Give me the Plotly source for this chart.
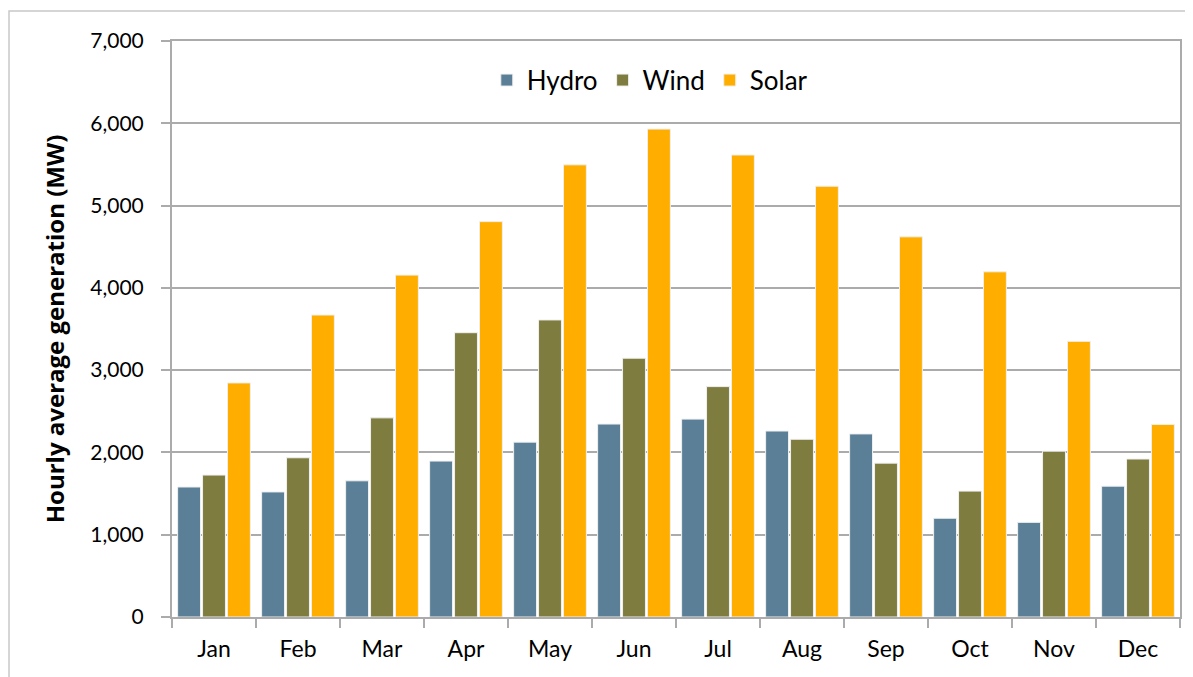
import plotly.graph_objects as go

months = ["Jan", "Feb", "Mar", "Apr", "May", "Jun", "Jul", "Aug", "Sep", "Oct", "Nov", "Dec"]
hydro = [1580, 1520, 1655, 1895, 2125, 2345, 2405, 2260, 2225, 1200, 1150, 1590]
wind = [1725, 1935, 2420, 3455, 3610, 3145, 2800, 2160, 1870, 1530, 2015, 1920]
solar = [2845, 3670, 4155, 4805, 5495, 5930, 5615, 5235, 4620, 4195, 3350, 2340]

series = [("Hydro", hydro, "#5A7F96"), ("Wind", wind, "#7E7C3E"), ("Solar", solar, "#FFAE00")]

fig = go.Figure()
for name, vals, col in series:
    fig.add_trace(go.Bar(x=months, y=vals, name=name,
                         marker=dict(color=col, line=dict(color="#F0F0F0", width=1))))

font = "Lato, 'Open Sans', sans-serif"
fig.update_layout(
    width=1185, height=669,
    margin=dict(l=164, r=13, t=33, b=60, autoexpand=False),
    paper_bgcolor="white", plot_bgcolor="white",
    barmode="group", bargap=0.11, bargroupgap=0.08,
    font=dict(family=font, size=21, color="black"),
    showlegend=True,
    legend=dict(orientation="h", x=0.474, xanchor="center", y=0.932, yanchor="middle",
                font=dict(size=26), itemwidth=30, bgcolor="rgba(0,0,0,0)"),
    xaxis=dict(showgrid=False, showline=True, linecolor="#ABABAB", linewidth=2, mirror=True,
               ticks="outside", tickson="boundaries", ticklen=9, tickcolor="#ABABAB", tickwidth=1.5,
               tickfont=dict(size=23), ticklabelstandoff=10, automargin=False),
    yaxis=dict(range=[0, 7000], dtick=1000, tickformat=",d", showgrid=True, gridcolor="#ABABAB", gridwidth=1.5,
               showline=True, linecolor="#ABABAB", linewidth=2, mirror=True,
               ticks="outside", ticklen=9, tickcolor="#ABABAB", tickwidth=1.5,
               tickfont=dict(size=21), ticklabelstandoff=13, zeroline=False, automargin=False,
               title=dict(text="Hourly average generation (MW)",
                          font=dict(size=24, family="'Open Sans', sans-serif", weight="bold"), standoff=19)),
    shapes=[dict(type="rect", xref="paper", yref="paper", x0=-0.1617, x1=1.2, y0=-0.3, y1=1.052,
                 line=dict(color="#C8C8C8", width=1.5), fillcolor="rgba(0,0,0,0)", layer="below")],
)

fig.write_html("out.html")
